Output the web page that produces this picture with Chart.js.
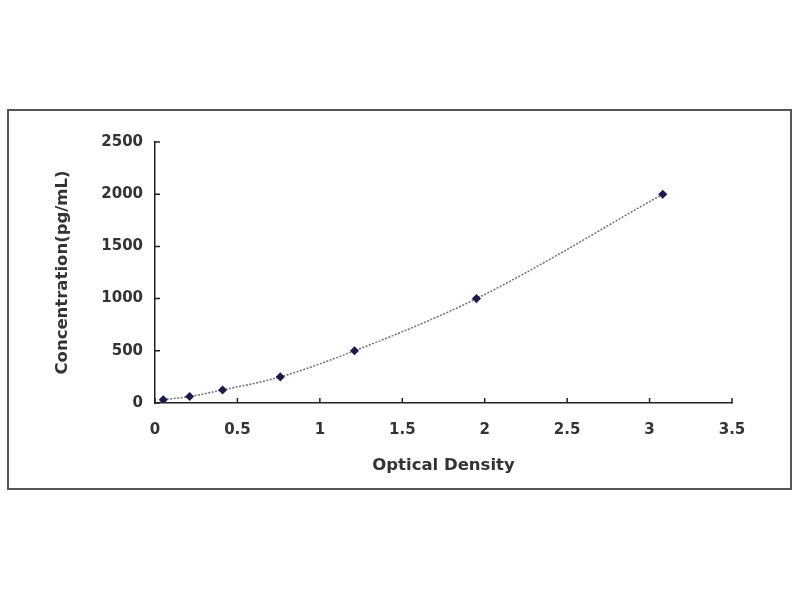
<!DOCTYPE html>
<html>
<head>
<meta charset="utf-8">
<script src="https://cdn.jsdelivr.net/npm/chart.js@4"></script>
<style>
  body { margin: 0; background: #fff; }
  #frame {
    position: absolute; left: 7px; top: 109px;
    width: 781px; height: 377px;
    border: 2px solid #555;
  }
  #chart { display: block; }
</style>
</head>
<body>
<div id="frame"><canvas id="chart" width="781" height="377"></canvas></div>
<script>
// standard curve readings
const opticalDensity = [0.05, 0.21, 0.41, 0.76, 1.21, 1.95, 3.08];
const concentration = [31.25, 62.5, 125, 250, 500, 1000, 2000];
const xTicks = [0, 0.5, 1, 1.5, 2, 2.5, 3, 3.5];
const yTicks = [0, 500, 1000, 1500, 2000, 2500];

const points = opticalDensity.map((od, i) => ({ x: od, y: concentration[i] }));
const tickFont = { family: 'DejaVu Sans, sans-serif', size: 15, weight: 'bold' };
const titleFont = { family: 'DejaVu Sans, sans-serif', size: 16.5, weight: 'bold' };

// tick marks point into the plot, like the original
const innerTicks = {
  id: 'innerTicks',
  afterDraw(chart) {
    const ctx = chart.ctx;
    const xs = chart.scales.x;
    const ys = chart.scales.y;
    ctx.save();
    ctx.strokeStyle = '#222';
    ctx.lineWidth = 1.5;
    ctx.beginPath();
    xTicks.forEach((v) => {
      const px = xs.getPixelForValue(v);
      ctx.moveTo(px, ys.bottom);
      ctx.lineTo(px, ys.bottom - 5);
    });
    yTicks.forEach((v) => {
      const py = ys.getPixelForValue(v);
      ctx.moveTo(xs.left, py);
      ctx.lineTo(xs.left + 5, py);
    });
    ctx.stroke();
    ctx.restore();
  }
};

new Chart(document.getElementById('chart'), {
  type: 'scatter',
  data: {
    datasets: [
      {
        label: 'Standard curve',
        data: points,
        showLine: true,
        tension: 0.4,
        cubicInterpolationMode: 'monotone',
        borderColor: '#6e7080',
        borderWidth: 1.5,
        borderDash: [2, 1.5],
        pointStyle: 'rectRot',
        pointRadius: 3.5,
        pointBackgroundColor: '#1c1c48',
        pointBorderColor: '#1c1c48'
      }
    ]
  },
  options: {
    responsive: false,
    animation: false,
    layout: { padding: { top: 31, right: 58, left: 0, bottom: 0 } },
    plugins: {
      legend: { display: false },
      tooltip: { enabled: false }
    },
    scales: {
      x: {
        type: 'linear',
        min: 0,
        max: 3.5,
        afterBuildTicks: (scale) => { scale.ticks = xTicks.map((v) => ({ value: v })); },
        afterFit: (scale) => { scale.height = 85; },
        grid: { display: true, drawOnChartArea: false, drawTicks: false },
        border: { display: true, color: '#222', width: 1.5 },
        ticks: { color: '#333', font: tickFont, padding: 18, maxRotation: 0, callback: (v) => String(v) },
        title: {
          display: true,
          text: 'Optical Density',
          color: '#333',
          font: titleFont,
          padding: { top: 0, bottom: 12 }
        }
      },
      y: {
        type: 'linear',
        min: 0,
        max: 2500,
        afterBuildTicks: (scale) => { scale.ticks = yTicks.map((v) => ({ value: v })); },
        afterFit: (scale) => { scale.width = 146; },
        grid: { display: true, drawOnChartArea: false, drawTicks: false },
        border: { display: true, color: '#222', width: 1.5 },
        ticks: { color: '#333', font: tickFont, padding: 12, callback: (v) => String(v) },
        title: {
          display: true,
          text: 'Concentration(pg/mL)',
          color: '#333',
          font: titleFont,
          padding: { top: 44, bottom: 0 }
        }
      }
    }
  },
  plugins: [innerTicks]
});
</script>
</body>
</html>
